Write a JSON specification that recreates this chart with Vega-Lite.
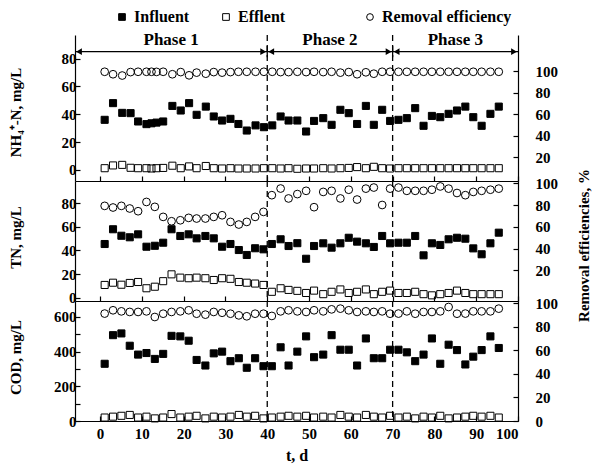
{
  "$schema": "https://vega.github.io/schema/vega-lite/v6.json",
  "background": "white",
  "padding": {"left": 8, "top": 9, "right": 2, "bottom": 5},
  "spacing": 0,
  "bounds": "flush",
  "resolve": {
    "scale": {"shape": "shared", "fill": "shared", "stroke": "shared"},
    "legend": {"shape": "shared", "fill": "shared", "stroke": "shared"}
  },
  "config": {
    "font": "Liberation Serif",
    "view": {"stroke": null},
    "axis": {
      "grid": false,
      "labelOverlap": false,
      "domainColor": "black",
      "domainWidth": 1.2,
      "tickColor": "black",
      "tickWidth": 1.2,
      "tickSize": -5,
      "labelFont": "Liberation Serif",
      "labelFontWeight": "bold",
      "labelFontSize": 15,
      "labelColor": "black",
      "titleFont": "Liberation Serif",
      "titleFontWeight": "bold",
      "titleFontSize": 15,
      "titleColor": "black"
    },
    "legend": {
      "labelFont": "Liberation Serif",
      "labelFontWeight": "bold",
      "labelFontSize": 16,
      "labelColor": "black",
      "labelLimit": 300,
      "symbolSize": 45,
      "symbolStrokeWidth": 1
    }
  },
  "datasets": {
    "bounds": [{"day": 40}, {"day": 70}],
    "phases": [
      {"phase": "Phase 1", "start": -6, "end": 40, "mid": 17},
      {"phase": "Phase 2", "start": 40, "end": 70, "mid": 55},
      {"phase": "Phase 3", "start": 70, "end": 100, "mid": 85}
    ],
    "obs": [
      {"panel": "NH4", "day": 1.1, "Influent": 36, "Efflent": 1.2, "Removal efficiency": 99.3},
      {"panel": "NH4", "day": 3.1, "Influent": 48, "Efflent": 3.2, "Removal efficiency": 97},
      {"panel": "NH4", "day": 5.3, "Influent": 41, "Efflent": 3.6, "Removal efficiency": 95.8},
      {"panel": "NH4", "day": 7.3, "Influent": 40.8, "Efflent": 1.5, "Removal efficiency": 99},
      {"panel": "NH4", "day": 9.1, "Influent": 34.8, "Efflent": 1.2, "Removal efficiency": 99.3},
      {"panel": "NH4", "day": 11.1, "Influent": 32.9, "Efflent": 1.2, "Removal efficiency": 99.3},
      {"panel": "NH4", "day": 12.3, "Influent": 33.5, "Efflent": 1.0, "Removal efficiency": 99.3},
      {"panel": "NH4", "day": 13.5, "Influent": 34, "Efflent": 1.2, "Removal efficiency": 99.2},
      {"panel": "NH4", "day": 15.1, "Influent": 34.8, "Efflent": 1.4, "Removal efficiency": 99.3},
      {"panel": "NH4", "day": 17.3, "Influent": 46, "Efflent": 3, "Removal efficiency": 97},
      {"panel": "NH4", "day": 19.3, "Influent": 42.7, "Efflent": 1.2, "Removal efficiency": 99},
      {"panel": "NH4", "day": 21.3, "Influent": 48, "Efflent": 2.5, "Removal efficiency": 96},
      {"panel": "NH4", "day": 23.1, "Influent": 39.6, "Efflent": 1.2, "Removal efficiency": 98.5},
      {"panel": "NH4", "day": 25.3, "Influent": 45.5, "Efflent": 2.8, "Removal efficiency": 97.5},
      {"panel": "NH4", "day": 27.2, "Influent": 38.4, "Efflent": 1.2, "Removal efficiency": 99},
      {"panel": "NH4", "day": 29.2, "Influent": 35.5, "Efflent": 1.0, "Removal efficiency": 98.5},
      {"panel": "NH4", "day": 31.2, "Influent": 36.7, "Efflent": 1.2, "Removal efficiency": 99},
      {"panel": "NH4", "day": 33.1, "Influent": 33, "Efflent": 1.0, "Removal efficiency": 99.3},
      {"panel": "NH4", "day": 35.1, "Influent": 28.3, "Efflent": 1.0, "Removal efficiency": 99.3},
      {"panel": "NH4", "day": 37.2, "Influent": 32, "Efflent": 1.0, "Removal efficiency": 99.3},
      {"panel": "NH4", "day": 39.2, "Influent": 30.7, "Efflent": 1.2, "Removal efficiency": 99.3},
      {"panel": "NH4", "day": 41.2, "Influent": 32, "Efflent": 1.2, "Removal efficiency": 99.3},
      {"panel": "NH4", "day": 43.2, "Influent": 38.4, "Efflent": 1.0, "Removal efficiency": 99},
      {"panel": "NH4", "day": 45.1, "Influent": 35.5, "Efflent": 1.2, "Removal efficiency": 99},
      {"panel": "NH4", "day": 47.2, "Influent": 35.5, "Efflent": 0.8, "Removal efficiency": 99.3},
      {"panel": "NH4", "day": 49.3, "Influent": 27.6, "Efflent": 1.0, "Removal efficiency": 99},
      {"panel": "NH4", "day": 51.2, "Influent": 35.2, "Efflent": 1.0, "Removal efficiency": 99.3},
      {"panel": "NH4", "day": 53.4, "Influent": 37.2, "Efflent": 1.2, "Removal efficiency": 99},
      {"panel": "NH4", "day": 55.4, "Influent": 32.4, "Efflent": 1.0, "Removal efficiency": 99.3},
      {"panel": "NH4", "day": 57.5, "Influent": 43.2, "Efflent": 1.2, "Removal efficiency": 98.5},
      {"panel": "NH4", "day": 59.5, "Influent": 40.8, "Efflent": 1.4, "Removal efficiency": 99},
      {"panel": "NH4", "day": 61.5, "Influent": 33, "Efflent": 2.0, "Removal efficiency": 97},
      {"panel": "NH4", "day": 63.6, "Influent": 46, "Efflent": 1.2, "Removal efficiency": 98.8},
      {"panel": "NH4", "day": 65.5, "Influent": 32.4, "Efflent": 2.2, "Removal efficiency": 97.5},
      {"panel": "NH4", "day": 67.5, "Influent": 43.2, "Efflent": 1.2, "Removal efficiency": 99.3},
      {"panel": "NH4", "day": 69.4, "Influent": 35.2, "Efflent": 1.0, "Removal efficiency": 99.3},
      {"panel": "NH4", "day": 71.4, "Influent": 36, "Efflent": 1.2, "Removal efficiency": 99.3},
      {"panel": "NH4", "day": 73.4, "Influent": 37.2, "Efflent": 1.2, "Removal efficiency": 99.3},
      {"panel": "NH4", "day": 75.4, "Influent": 44.4, "Efflent": 1.2, "Removal efficiency": 99.3},
      {"panel": "NH4", "day": 77.4, "Influent": 31.7, "Efflent": 1.2, "Removal efficiency": 99.3},
      {"panel": "NH4", "day": 79.4, "Influent": 38.8, "Efflent": 1.2, "Removal efficiency": 99.3},
      {"panel": "NH4", "day": 81.4, "Influent": 37.9, "Efflent": 1.2, "Removal efficiency": 99.3},
      {"panel": "NH4", "day": 83.4, "Influent": 40.3, "Efflent": 1.2, "Removal efficiency": 99.3},
      {"panel": "NH4", "day": 85.4, "Influent": 42.7, "Efflent": 1.2, "Removal efficiency": 99.3},
      {"panel": "NH4", "day": 87.4, "Influent": 45.5, "Efflent": 1.2, "Removal efficiency": 99.3},
      {"panel": "NH4", "day": 89.3, "Influent": 37.9, "Efflent": 1.2, "Removal efficiency": 99.3},
      {"panel": "NH4", "day": 91.3, "Influent": 31.7, "Efflent": 1.2, "Removal efficiency": 99.3},
      {"panel": "NH4", "day": 93.4, "Influent": 40.3, "Efflent": 1.2, "Removal efficiency": 99.3},
      {"panel": "NH4", "day": 95.4, "Influent": 45.5, "Efflent": 1.2, "Removal efficiency": 99.3},

      {"panel": "TN", "day": 1.1, "Influent": 45.5, "Efflent": 10.8, "Removal efficiency": 79.2},
      {"panel": "TN", "day": 3.1, "Influent": 58, "Efflent": 12.7, "Removal efficiency": 77.7},
      {"panel": "TN", "day": 5.1, "Influent": 52.5, "Efflent": 11, "Removal efficiency": 79.2},
      {"panel": "TN", "day": 7.1, "Influent": 51.2, "Efflent": 12.5, "Removal efficiency": 76.8},
      {"panel": "TN", "day": 9.1, "Influent": 53.7, "Efflent": 13.3, "Removal efficiency": 74.3},
      {"panel": "TN", "day": 11.1, "Influent": 43.2, "Efflent": 8, "Removal efficiency": 82.8},
      {"panel": "TN", "day": 13.1, "Influent": 44, "Efflent": 9.3, "Removal efficiency": 78.3},
      {"panel": "TN", "day": 15.1, "Influent": 46.6, "Efflent": 14, "Removal efficiency": 69.1},
      {"panel": "TN", "day": 17.1, "Influent": 58, "Efflent": 19.8, "Removal efficiency": 65.1},
      {"panel": "TN", "day": 19.2, "Influent": 52.3, "Efflent": 17, "Removal efficiency": 66},
      {"panel": "TN", "day": 21.2, "Influent": 53.7, "Efflent": 16.5, "Removal efficiency": 68.2},
      {"panel": "TN", "day": 23.1, "Influent": 50.3, "Efflent": 17, "Removal efficiency": 67.6},
      {"panel": "TN", "day": 25.2, "Influent": 52.3, "Efflent": 16.5, "Removal efficiency": 67.6},
      {"panel": "TN", "day": 27.2, "Influent": 50.3, "Efflent": 15, "Removal efficiency": 69.1},
      {"panel": "TN", "day": 29.2, "Influent": 43.2, "Efflent": 16.5, "Removal efficiency": 70.6},
      {"panel": "TN", "day": 31.2, "Influent": 45.5, "Efflent": 16, "Removal efficiency": 64.5},
      {"panel": "TN", "day": 33.2, "Influent": 40.4, "Efflent": 13.3, "Removal efficiency": 62.1},
      {"panel": "TN", "day": 35.1, "Influent": 36.2, "Efflent": 12.7, "Removal efficiency": 64.5},
      {"panel": "TN", "day": 37.1, "Influent": 41.9, "Efflent": 12, "Removal efficiency": 69.1},
      {"panel": "TN", "day": 39.1, "Influent": 41, "Efflent": 10.8, "Removal efficiency": 73.7},
      {"panel": "TN", "day": 41.1, "Influent": 45.5, "Efflent": 5, "Removal efficiency": 89},
      {"panel": "TN", "day": 43.2, "Influent": 49.5, "Efflent": 8, "Removal efficiency": 95.1},
      {"panel": "TN", "day": 45.1, "Influent": 43.8, "Efflent": 6.6, "Removal efficiency": 86},
      {"panel": "TN", "day": 47.2, "Influent": 46.2, "Efflent": 5.8, "Removal efficiency": 90},
      {"panel": "TN", "day": 49.3, "Influent": 33, "Efflent": 4, "Removal efficiency": 93},
      {"panel": "TN", "day": 51.2, "Influent": 43.8, "Efflent": 6, "Removal efficiency": 78},
      {"panel": "TN", "day": 53.4, "Influent": 46.1, "Efflent": 3, "Removal efficiency": 92},
      {"panel": "TN", "day": 55.4, "Influent": 42.4, "Efflent": 5, "Removal efficiency": 93},
      {"panel": "TN", "day": 57.5, "Influent": 46.1, "Efflent": 7, "Removal efficiency": 86},
      {"panel": "TN", "day": 59.5, "Influent": 50.8, "Efflent": 4, "Removal efficiency": 94},
      {"panel": "TN", "day": 61.5, "Influent": 47.5, "Efflent": 5, "Removal efficiency": 85},
      {"panel": "TN", "day": 63.6, "Influent": 46.1, "Efflent": 7, "Removal efficiency": 95},
      {"panel": "TN", "day": 65.5, "Influent": 43, "Efflent": 3, "Removal efficiency": 96},
      {"panel": "TN", "day": 67.5, "Influent": 52.3, "Efflent": 5, "Removal efficiency": 80},
      {"panel": "TN", "day": 69.4, "Influent": 46.1, "Efflent": 6, "Removal efficiency": 95},
      {"panel": "TN", "day": 71.4, "Influent": 46.6, "Efflent": 4, "Removal efficiency": 96},
      {"panel": "TN", "day": 73.4, "Influent": 46.6, "Efflent": 4, "Removal efficiency": 93},
      {"panel": "TN", "day": 75.4, "Influent": 52.3, "Efflent": 5, "Removal efficiency": 93},
      {"panel": "TN", "day": 77.4, "Influent": 35.9, "Efflent": 3, "Removal efficiency": 93},
      {"panel": "TN", "day": 79.4, "Influent": 46.1, "Efflent": 2, "Removal efficiency": 94},
      {"panel": "TN", "day": 81.4, "Influent": 44.7, "Efflent": 3, "Removal efficiency": 97},
      {"panel": "TN", "day": 83.4, "Influent": 49.5, "Efflent": 4, "Removal efficiency": 95},
      {"panel": "TN", "day": 85.4, "Influent": 50.8, "Efflent": 6, "Removal efficiency": 91},
      {"panel": "TN", "day": 87.4, "Influent": 50, "Efflent": 4, "Removal efficiency": 89},
      {"panel": "TN", "day": 89.3, "Influent": 41.8, "Efflent": 3, "Removal efficiency": 92},
      {"panel": "TN", "day": 91.3, "Influent": 36.8, "Efflent": 3, "Removal efficiency": 93},
      {"panel": "TN", "day": 93.4, "Influent": 46.1, "Efflent": 3, "Removal efficiency": 94},
      {"panel": "TN", "day": 95.4, "Influent": 55.1, "Efflent": 3, "Removal efficiency": 95},

      {"panel": "COD", "day": 1.1, "Influent": 330, "Efflent": 20, "Removal efficiency": 91.3},
      {"panel": "COD", "day": 3.1, "Influent": 495, "Efflent": 25, "Removal efficiency": 94.1},
      {"panel": "COD", "day": 5.1, "Influent": 505, "Efflent": 30, "Removal efficiency": 93.2},
      {"panel": "COD", "day": 7.1, "Influent": 434, "Efflent": 35, "Removal efficiency": 92.7},
      {"panel": "COD", "day": 9.1, "Influent": 383, "Efflent": 20, "Removal efficiency": 92.7},
      {"panel": "COD", "day": 11.1, "Influent": 392, "Efflent": 25, "Removal efficiency": 93.2},
      {"panel": "COD", "day": 13.1, "Influent": 358, "Efflent": 15, "Removal efficiency": 88.4},
      {"panel": "COD", "day": 15.1, "Influent": 387, "Efflent": 20, "Removal efficiency": 91.2},
      {"panel": "COD", "day": 17.1, "Influent": 491, "Efflent": 40, "Removal efficiency": 92.7},
      {"panel": "COD", "day": 19.2, "Influent": 488, "Efflent": 20, "Removal efficiency": 93.2},
      {"panel": "COD", "day": 21.2, "Influent": 463, "Efflent": 25, "Removal efficiency": 94.1},
      {"panel": "COD", "day": 23.1, "Influent": 352, "Efflent": 30, "Removal efficiency": 91.2},
      {"panel": "COD", "day": 25.2, "Influent": 320, "Efflent": 15, "Removal efficiency": 90.4},
      {"panel": "COD", "day": 27.2, "Influent": 390, "Efflent": 25, "Removal efficiency": 92.7},
      {"panel": "COD", "day": 29.2, "Influent": 400, "Efflent": 20, "Removal efficiency": 92},
      {"panel": "COD", "day": 31.2, "Influent": 345, "Efflent": 25, "Removal efficiency": 91.2},
      {"panel": "COD", "day": 33.2, "Influent": 362, "Efflent": 35, "Removal efficiency": 89.8},
      {"panel": "COD", "day": 35.1, "Influent": 307, "Efflent": 25, "Removal efficiency": 89},
      {"panel": "COD", "day": 37.1, "Influent": 362, "Efflent": 30, "Removal efficiency": 91.2},
      {"panel": "COD", "day": 39.1, "Influent": 316, "Efflent": 15, "Removal efficiency": 91.2},
      {"panel": "COD", "day": 41.1, "Influent": 316, "Efflent": 20, "Removal efficiency": 89.3},
      {"panel": "COD", "day": 43.2, "Influent": 425, "Efflent": 25, "Removal efficiency": 93.2},
      {"panel": "COD", "day": 45.1, "Influent": 320, "Efflent": 30, "Removal efficiency": 94.1},
      {"panel": "COD", "day": 47.2, "Influent": 400, "Efflent": 25, "Removal efficiency": 93.2},
      {"panel": "COD", "day": 49.3, "Influent": 488, "Efflent": 30, "Removal efficiency": 92.7},
      {"panel": "COD", "day": 51.2, "Influent": 368, "Efflent": 20, "Removal efficiency": 94.1},
      {"panel": "COD", "day": 53.4, "Influent": 383, "Efflent": 25, "Removal efficiency": 93.2},
      {"panel": "COD", "day": 55.4, "Influent": 495, "Efflent": 20, "Removal efficiency": 94.9},
      {"panel": "COD", "day": 57.5, "Influent": 411, "Efflent": 35, "Removal efficiency": 95.5},
      {"panel": "COD", "day": 59.5, "Influent": 411, "Efflent": 25, "Removal efficiency": 94.1},
      {"panel": "COD", "day": 61.5, "Influent": 320, "Efflent": 20, "Removal efficiency": 92.7},
      {"panel": "COD", "day": 63.6, "Influent": 476, "Efflent": 35, "Removal efficiency": 93.2},
      {"panel": "COD", "day": 65.5, "Influent": 362, "Efflent": 25, "Removal efficiency": 92.7},
      {"panel": "COD", "day": 67.5, "Influent": 362, "Efflent": 20, "Removal efficiency": 93.2},
      {"panel": "COD", "day": 69.4, "Influent": 411, "Efflent": 30, "Removal efficiency": 91.2},
      {"panel": "COD", "day": 71.4, "Influent": 411, "Efflent": 20, "Removal efficiency": 91.3},
      {"panel": "COD", "day": 73.4, "Influent": 396, "Efflent": 25, "Removal efficiency": 93.2},
      {"panel": "COD", "day": 75.4, "Influent": 345, "Efflent": 15, "Removal efficiency": 91.2},
      {"panel": "COD", "day": 77.4, "Influent": 383, "Efflent": 25, "Removal efficiency": 92.7},
      {"panel": "COD", "day": 79.4, "Influent": 476, "Efflent": 20, "Removal efficiency": 92.7},
      {"panel": "COD", "day": 81.4, "Influent": 330, "Efflent": 30, "Removal efficiency": 93.2},
      {"panel": "COD", "day": 83.4, "Influent": 440, "Efflent": 15, "Removal efficiency": 96.9},
      {"panel": "COD", "day": 85.4, "Influent": 409, "Efflent": 20, "Removal efficiency": 91.2},
      {"panel": "COD", "day": 87.4, "Influent": 326, "Efflent": 25, "Removal efficiency": 91.3},
      {"panel": "COD", "day": 89.3, "Influent": 371, "Efflent": 30, "Removal efficiency": 93.2},
      {"panel": "COD", "day": 91.3, "Influent": 409, "Efflent": 25, "Removal efficiency": 93.2},
      {"panel": "COD", "day": 93.4, "Influent": 488, "Efflent": 30, "Removal efficiency": 93.2},
      {"panel": "COD", "day": 95.4, "Influent": 421, "Efflent": 20, "Removal efficiency": 95.5}
    ]
  },
  "vconcat": [
    {
      "width": 443,
      "height": 146,
      "resolve": {"scale": {"y": "independent"}},
      "layer": [
        {
          "layer": [
            {
              "data": {"name": "bounds"},
              "mark": {"type": "rule", "strokeDash": [6, 4], "strokeWidth": 1.3, "color": "black"},
              "encoding": {
                "x": {
                  "field": "day", "type": "quantitative",
                  "scale": {"domain": [-6, 100], "nice": false, "zero": false},
                  "axis": {"values": [0, 10, 20, 30, 40, 50, 60, 70, 80, 90, 100], "labels": false, "title": null}
                }
              }
            },
            {
              "data": {"name": "obs"},
              "transform": [
                {"filter": "datum.panel == 'NH4'"},
                {"fold": ["Influent", "Efflent"], "as": ["series", "conc"]}
              ],
              "mark": {"type": "point", "filled": true, "strokeWidth": 1, "size": 50, "opacity": 1},
              "encoding": {
                "x": {"field": "day", "type": "quantitative"},
                "y": {
                  "field": "conc", "type": "quantitative",
                  "scale": {"domain": [-8, 97], "nice": false, "zero": false},
                  "axis": {"values": [0, 20, 40, 60, 80], "title": "NH₄⁺-N, mg/L", "titleX": -60, "titleY": 77, "titleAngle": -90, "titleBaseline": "middle", "titleAlign": "center", "labelPadding": 4}
                },
                "shape": {
                  "field": "series", "type": "nominal",
                  "scale": {"domain": ["Influent", "Efflent", "Removal efficiency"], "range": ["square", "square", "circle"]},
                  "legend": {
                    "title": null, "orient": "none", "direction": "horizontal", "legendX": 39, "legendY": -26, "columnPadding": 28,
                    "labelExpr": "datum.label == 'Efflent' ? 'Efflent\u00a0\u00a0\u00a0\u00a0\u00a0\u00a0\u00a0\u00a0\u00a0\u00a0\u00a0\u00a0\u200b' : datum.label"
                  }
                },
                "fill": {
                  "field": "series", "type": "nominal",
                  "scale": {"domain": ["Influent", "Efflent", "Removal efficiency"], "range": ["black", "transparent", "transparent"]},
                  "legend": {
                    "title": null, "orient": "none", "direction": "horizontal", "legendX": 39, "legendY": -26, "columnPadding": 28,
                    "labelExpr": "datum.label == 'Efflent' ? 'Efflent\u00a0\u00a0\u00a0\u00a0\u00a0\u00a0\u00a0\u00a0\u00a0\u00a0\u00a0\u00a0\u200b' : datum.label"
                  }
                },
                "stroke": {
                  "field": "series", "type": "nominal",
                  "scale": {"domain": ["Influent", "Efflent", "Removal efficiency"], "range": ["black", "black", "black"]},
                  "legend": {
                    "title": null, "orient": "none", "direction": "horizontal", "legendX": 39, "legendY": -26, "columnPadding": 28,
                    "labelExpr": "datum.label == 'Efflent' ? 'Efflent\u00a0\u00a0\u00a0\u00a0\u00a0\u00a0\u00a0\u00a0\u00a0\u00a0\u00a0\u00a0\u200b' : datum.label"
                  }
                }
              }
            },
            {
              "data": {"name": "phases"},
              "mark": {"type": "rule", "color": "black", "strokeWidth": 1.2},
              "encoding": {
                "x": {"field": "start", "type": "quantitative"},
                "x2": {"field": "end"},
                "y": {"datum": 85, "type": "quantitative", "axis": {"values": [0, 20, 40, 60, 80]}}
              }
            },
            {
              "data": {"name": "phases"},
              "mark": {"type": "point", "shape": "triangle-left", "filled": true, "color": "black", "size": 45, "xOffset": 4, "opacity": 1},
              "encoding": {
                "x": {"field": "start", "type": "quantitative"},
                "y": {"datum": 85, "type": "quantitative", "axis": {"values": [0, 20, 40, 60, 80]}}
              }
            },
            {
              "data": {"name": "phases"},
              "mark": {"type": "point", "shape": "triangle-right", "filled": true, "color": "black", "size": 45, "xOffset": -4, "opacity": 1},
              "encoding": {
                "x": {"field": "end", "type": "quantitative"},
                "y": {"datum": 85, "type": "quantitative", "axis": {"values": [0, 20, 40, 60, 80]}}
              }
            },
            {
              "data": {"name": "bounds"},
              "mark": {"type": "rule", "color": "black", "strokeWidth": 1.3},
              "encoding": {
                "x": {"field": "day", "type": "quantitative"},
                "y": {"datum": 81, "type": "quantitative", "axis": {"values": [0, 20, 40, 60, 80]}},
                "y2": {"datum": 89}
              }
            },
            {
              "data": {"name": "phases"},
              "mark": {"type": "text", "font": "Liberation Serif", "fontWeight": "bold", "fontSize": 17, "color": "black", "baseline": "middle"},
              "encoding": {
                "x": {"field": "mid", "type": "quantitative"},
                "y": {"datum": 93.5, "type": "quantitative", "axis": {"values": [0, 20, 40, 60, 80]}},
                "text": {"field": "phase"}
              }
            }
          ]
        },
        {
          "data": {"name": "obs"},
          "transform": [
            {"filter": "datum.panel == 'NH4'"},
            {"fold": ["Removal efficiency"], "as": ["series", "eff"]}
          ],
          "mark": {"type": "point", "filled": true, "strokeWidth": 1, "size": 60, "opacity": 1},
          "encoding": {
            "x": {"field": "day", "type": "quantitative"},
            "y": {
              "field": "eff", "type": "quantitative",
              "scale": {"domain": [-2.3, 133.5], "nice": false, "zero": false},
              "axis": {"orient": "right", "values": [20, 40, 60, 80, 100], "title": null, "labelPadding": 22}
            },
            "shape": {"field": "series", "type": "nominal", "title": null},
            "fill": {"field": "series", "type": "nominal", "title": null},
            "stroke": {"field": "series", "type": "nominal", "title": null}
          }
        }
      ]
    },
    {
      "width": 443,
      "height": 120,
      "resolve": {"scale": {"y": "independent"}},
      "layer": [
        {
          "layer": [
            {
              "data": {"name": "bounds"},
              "mark": {"type": "rule", "strokeDash": [6, 4], "strokeWidth": 1.3, "color": "black"},
              "encoding": {
                "x": {
                  "field": "day", "type": "quantitative",
                  "scale": {"domain": [-6, 100], "nice": false, "zero": false},
                  "axis": {"values": [0, 10, 20, 30, 40, 50, 60, 70, 80, 90, 100], "labels": false, "title": null}
                }
              }
            },
            {
              "data": {"name": "obs"},
              "transform": [
                {"filter": "datum.panel == 'TN'"},
                {"fold": ["Influent", "Efflent"], "as": ["series", "conc"]}
              ],
              "mark": {"type": "point", "filled": true, "strokeWidth": 1, "size": 50, "opacity": 1},
              "encoding": {
                "x": {"field": "day", "type": "quantitative"},
                "y": {
                  "field": "conc", "type": "quantitative",
                  "scale": {"domain": [-2.8, 98.9], "nice": false, "zero": false},
                  "axis": {"values": [0, 20, 40, 60, 80], "title": "TN, mg/L", "titleX": -60, "titleY": 56, "titleAngle": -90, "titleBaseline": "middle", "titleAlign": "center", "labelPadding": 4}
                },
                "shape": {"field": "series", "type": "nominal", "title": null},
                "fill": {"field": "series", "type": "nominal", "title": null},
                "stroke": {"field": "series", "type": "nominal", "title": null}
              }
            }
          ]
        },
        {
          "data": {"name": "obs"},
          "transform": [
            {"filter": "datum.panel == 'TN'"},
            {"fold": ["Removal efficiency"], "as": ["series", "eff"]}
          ],
          "mark": {"type": "point", "filled": true, "strokeWidth": 1, "size": 60, "opacity": 1},
          "encoding": {
            "x": {"field": "day", "type": "quantitative"},
            "y": {
              "field": "eff", "type": "quantitative",
              "scale": {"domain": [-8, 102], "nice": false, "zero": false},
              "axis": {"orient": "right", "values": [20, 40, 60, 80, 100], "title": "Removal efficiencies, %", "titleX": 65, "titleY": 64, "titleAngle": -90, "titleBaseline": "middle", "titleAlign": "center", "labelPadding": 22}
            },
            "shape": {"field": "series", "type": "nominal", "title": null},
            "fill": {"field": "series", "type": "nominal", "title": null},
            "stroke": {"field": "series", "type": "nominal", "title": null}
          }
        }
      ]
    },
    {
      "width": 443,
      "height": 120,
      "resolve": {"scale": {"y": "independent"}},
      "layer": [
        {
          "layer": [
            {
              "data": {"name": "bounds"},
              "mark": {"type": "rule", "strokeDash": [6, 4], "strokeWidth": 1.3, "color": "black"},
              "encoding": {
                "x": {
                  "field": "day", "type": "quantitative",
                  "scale": {"domain": [-6, 100], "nice": false, "zero": false},
                  "axis": {"values": [0, 10, 20, 30, 40, 50, 60, 70, 80, 90, 100], "title": "t, d", "titleFontSize": 16, "labelPadding": 10, "titlePadding": 6}
                }
              }
            },
            {
              "data": {"name": "obs"},
              "transform": [
                {"filter": "datum.panel == 'COD'"},
                {"fold": ["Influent", "Efflent"], "as": ["series", "conc"]}
              ],
              "mark": {"type": "point", "filled": true, "strokeWidth": 1, "size": 50, "opacity": 1},
              "encoding": {
                "x": {"field": "day", "type": "quantitative"},
                "y": {
                  "field": "conc", "type": "quantitative",
                  "scale": {"domain": [0, 692], "nice": false, "zero": false},
                  "axis": {"values": [0, 100, 200, 300, 400, 500, 600], "labelExpr": "datum.value % 200 == 0 ? datum.label : ''", "title": "COD, mg/L", "titleX": -60, "titleY": 56, "titleAngle": -90, "titleBaseline": "middle", "titleAlign": "center", "labelPadding": 4}
                },
                "shape": {"field": "series", "type": "nominal", "title": null},
                "fill": {"field": "series", "type": "nominal", "title": null},
                "stroke": {"field": "series", "type": "nominal", "title": null}
              }
            }
          ]
        },
        {
          "data": {"name": "obs"},
          "transform": [
            {"filter": "datum.panel == 'COD'"},
            {"fold": ["Removal efficiency"], "as": ["series", "eff"]}
          ],
          "mark": {"type": "point", "filled": true, "strokeWidth": 1, "size": 60, "opacity": 1},
          "encoding": {
            "x": {"field": "day", "type": "quantitative"},
            "y": {
              "field": "eff", "type": "quantitative",
              "scale": {"domain": [0, 102], "nice": false, "zero": false},
              "axis": {"orient": "right", "values": [0, 20, 40, 60, 80, 100], "title": null, "labelPadding": 22}
            },
            "shape": {"field": "series", "type": "nominal", "title": null},
            "fill": {"field": "series", "type": "nominal", "title": null},
            "stroke": {"field": "series", "type": "nominal", "title": null}
          }
        }
      ]
    }
  ]
}
